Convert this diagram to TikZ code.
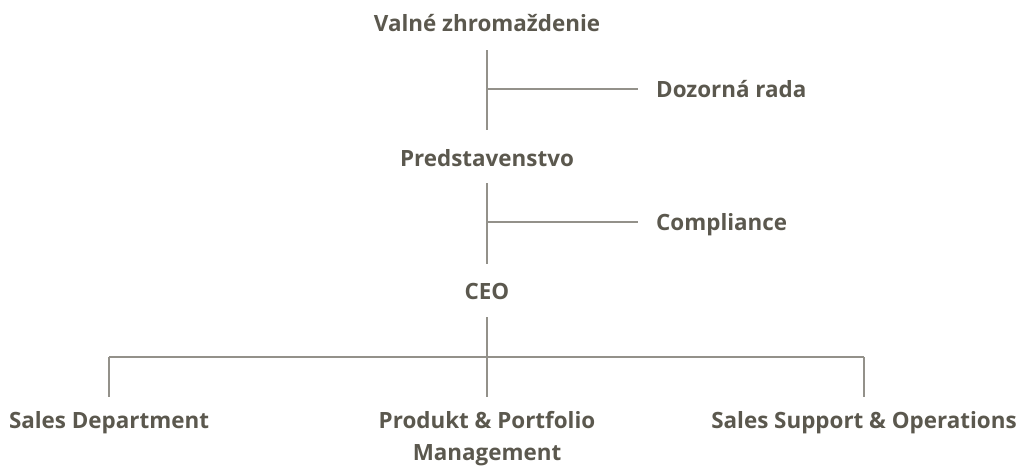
\documentclass[tikz,border=0pt]{standalone}
\usepackage{fontspec}
\setmainfont{Open Sans}[UprightFont=* Bold]
\definecolor{txt}{HTML}{5B584E}
\definecolor{ln}{HTML}{93918A}
\begin{document}
\begin{tikzpicture}[x=1pt,y=-1pt,
  lbl/.style={inner sep=0pt, text height=16pt, text depth=0pt, text=txt,
    font=\fontsize{22.4}{32}\selectfont},
  conn/.style={draw=ln, line width=1.1pt}]
\useasboundingbox (0,0) rectangle (1018,466);
\node[lbl, anchor=base] (v) at (487,31) {Valné zhromaždenie};
\node[lbl, anchor=base west] (d) at (656,97) {Dozorná rada};
\node[lbl, anchor=base] (p) at (487,166) {Predstavenstvo};
\node[lbl, anchor=base west] (c) at (656,230) {Compliance};
\node[lbl, anchor=base] (ceo) at (487,299) {CEO};
\node[lbl, anchor=base] (s1) at (109,428) {Sales Department};
\node[inner sep=0pt, text=txt, font=\fontsize{22.4}{32}\selectfont, align=center, anchor=north] (s2) at (487,411) {Produkt \& Portfolio\\Management};
\node[lbl, anchor=base] (s3) at (864,428) {Sales Support \& Operations};
\coordinate (bar) at (487,357);
\draw[conn, shorten <=19pt, shorten >=20pt] (v.south) -- (p.north);
\draw[conn, shorten >=18pt] (v |- d.west) -- (d.west);
\draw[conn, shorten <=17pt, shorten >=19pt] (p.south) -- (ceo.north);
\draw[conn, shorten >=18pt] (p |- c.west) -- (c.west);
\draw[conn, shorten <=18pt] (ceo.south) -- (bar);
\draw[conn] (s1 |- bar) -- (s3 |- bar);
\draw[conn, shorten >=15pt] (s1 |- bar) -- (s1.north);
\draw[conn, shorten >=14pt] (bar) -- (s2.north);
\draw[conn, shorten >=15pt] (s3 |- bar) -- (s3.north);
\end{tikzpicture}
\end{document}
